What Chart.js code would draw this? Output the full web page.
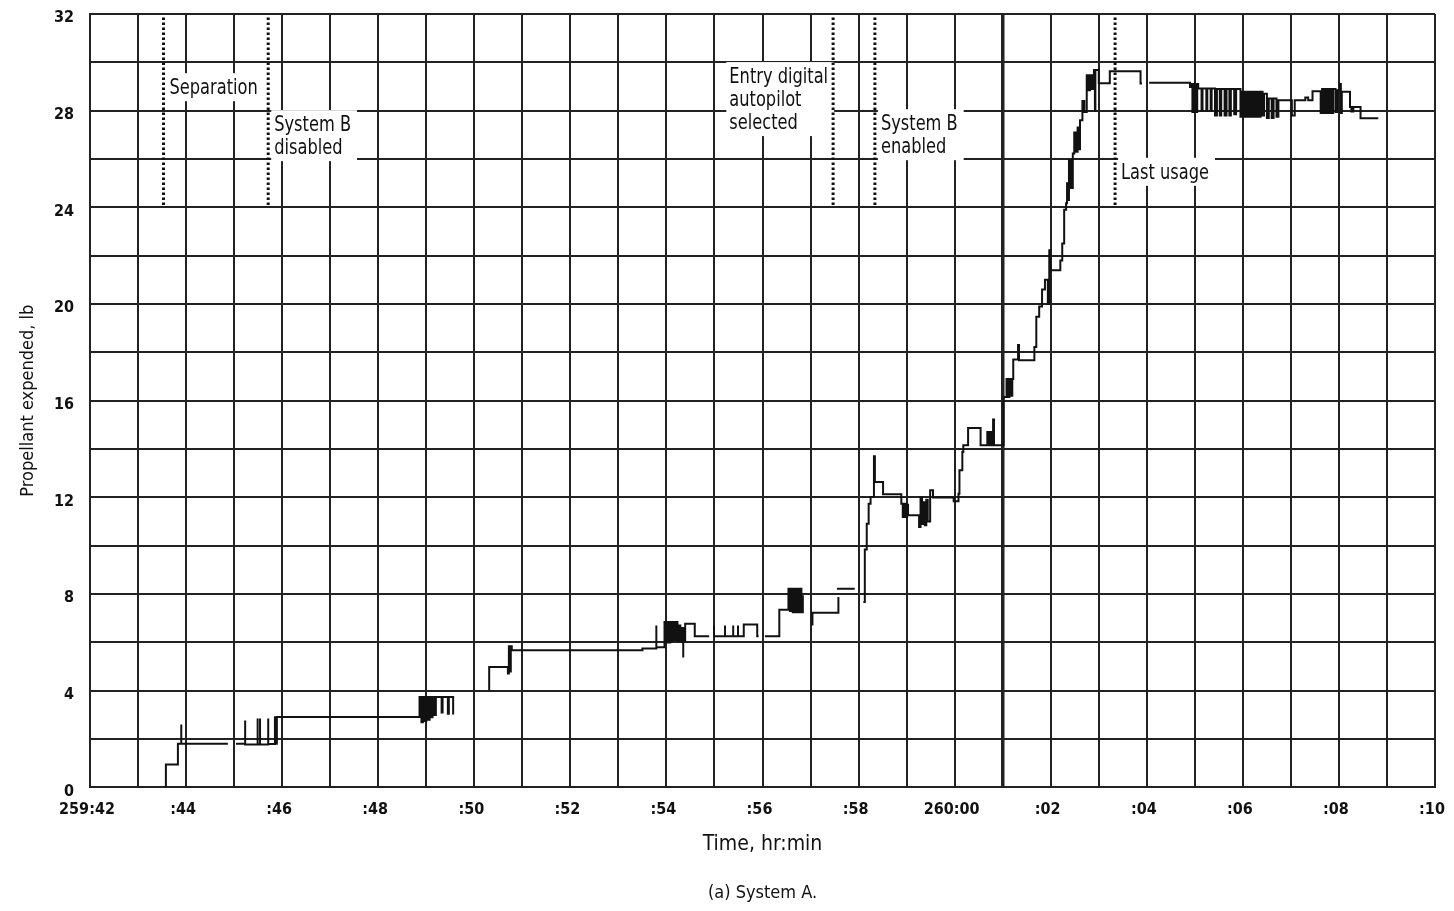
<!DOCTYPE html>
<html>
<head>
<meta charset="utf-8">
<title>Propellant expended - System A</title>
<script src="https://cdn.jsdelivr.net/npm/chart.js@4.4.1/dist/chart.umd.min.js"></script>
<style>
  html, body { margin: 0; padding: 0; background: #fff; }
  #wrap { width: 1454px; height: 911px; }
</style>
</head>
<body>
<div id="wrap"><canvas id="chart"></canvas></div>
<script>
// minutes after 259:42, and propellant expended (lb); null = pen lifted
const traceTime = [
  1.58, 1.58, 1.83, 1.90, 1.90, 2.87, 2.87,
  3.04, 3.23, 3.23, 3.49, 3.49, 3.54, 3.54, 3.71, 3.71, 3.85, 3.85, 3.89,
  6.86, 6.90, 6.93, 6.97, 7.00, 7.03, 7.07, 7.10, 7.13, 7.17, 7.20, 7.32, 7.34, 7.45, 7.47, 7.56, 7.56,
  8.31, 8.31, 8.70, 8.72, 8.74, 8.76, 8.78, 11.50, 11.79, 11.79,
  11.96, 11.99, 12.02, 12.05, 12.08, 12.11, 12.14, 12.17, 12.20, 12.23, 12.26, 12.29, 12.32,
  12.35, 12.35, 12.39, 12.59, 12.89, 12.89,
  12.99, 12.99, 13.22, 13.22, 13.39, 13.39, 13.49, 13.49, 13.61, 13.89, 13.92, 13.92,
  14.05, 14.35, 14.54, 14.57, 14.60, 14.63, 14.66, 14.69, 14.72, 14.75, 14.78, 14.81, 14.84, 14.84, 14.84,
  15.04, 15.04, 15.58, 15.58,
  15.55, 15.92, 15.92,
  16.10, 16.13, 16.17, 16.21, 16.25, 16.32, 16.34, 16.51,
  16.89, 16.92, 16.95, 16.98, 17.01, 17.03, 17.26, 17.29, 17.32, 17.35, 17.38, 17.41, 17.44, 17.49, 17.55,
  17.98, 18.08, 18.10, 18.16, 18.18, 18.28, 18.54, 18.68, 18.70, 18.74, 18.76, 18.80, 18.82,
  19.02, 19.08, 19.11, 19.14, 19.17, 19.20, 19.22, 19.32, 19.34, 19.66, 19.70, 19.76, 19.82, 19.88, 19.94,
  19.97, 19.99, 20.20, 20.24, 20.28, 20.32, 20.34, 20.36, 20.38, 20.42, 20.46, 20.49, 20.52, 20.56, 20.60,
  20.61, 20.66, 20.70, 20.75, 20.78, 20.82, 20.86, 20.90, 20.92, 20.93, 21.00, 21.23, 21.87, 21.90, 21.90,
  22.05, 22.90,
  22.93, 22.95, 22.97, 22.99, 23.01, 23.03, 23.05, 23.07,
  23.14, 23.16, 23.24, 23.26, 23.33, 23.35,
  23.42, 23.46, 23.52, 23.55, 23.62, 23.66, 23.72, 23.75, 23.82, 23.86,
  23.95, 23.98, 24.01, 24.04, 24.07, 24.10, 24.13, 24.16, 24.20, 24.23, 24.27, 24.30, 24.34, 24.37, 24.41, 24.44,
  24.50, 24.54, 24.60, 24.64, 24.70, 24.74,
  25.02, 25.08, 25.30, 25.36, 25.45,
  25.62, 25.65, 25.69, 25.72, 25.76, 25.80, 25.84, 25.88, 25.93, 25.97,
  26.02, 26.04, 26.06, 26.23, 26.26, 26.30, 26.45, 26.82
];
const traceLb = [
  0.00, 0.95, 1.81, 2.60, 1.81, 1.81, null,
  1.81, 2.77, 1.78, 2.85, 1.78, 2.85, 1.78, 2.85, 1.80, 2.94, 1.81, 2.91,
  3.74, 2.70, 3.74, 2.75, 3.74, 2.80, 3.74, 2.90, 3.74, 3.00, 3.74, 3.10, 3.74, 3.05, 3.74, 3.02, null,
  4.01, 4.98, 4.71, 5.84, 4.80, 5.84, 5.67, 5.75, 6.70, 5.80,
  6.84, 6.00, 6.84, 6.00, 6.84, 6.05, 6.84, 6.10, 6.84, 6.05, 6.70, 6.05, 6.60,
  5.37, 6.05, 6.77, 6.25, 6.25, null,
  6.70, 6.25, 6.70, 6.25, 6.70, 6.25, 6.70, 6.25, 6.74, 6.25, 6.25, null,
  6.25, 7.35, 8.22, 7.30, 8.22, 7.25, 8.22, 7.25, 8.22, 7.25, 8.22, 7.25, 7.95, 7.21, null,
  6.70, 7.23, 7.88, null,
  8.22, 8.22, null,
  7.67, 9.84, 10.91, 11.74, 12.02, 13.70, 12.64, 12.13,
  11.74, 11.19, 11.74, 11.19, 11.70, 11.26, 10.77, 12.00, 10.90, 11.80, 10.85, 11.90, 11.00, 12.29, 12.00,
  11.84, 12.15, 13.12, 13.88, 14.16, 14.87, 14.16, 14.70, 14.16, 14.70, 14.16, 15.22, 14.16,
  16.15, 16.90, 16.15, 16.90, 16.20, 16.90, 17.70, 18.30, 17.67, 18.22, 19.47, 19.90, 20.60, 21.00, 20.00,
  22.23, 21.40, 21.80, 22.50, 23.90, 24.17, 25.00, 24.30, 25.95, 24.80, 26.23, 27.10, 26.30, 27.30, 26.40,
  27.60, 28.40, 27.95, 29.47, 28.85, 29.47, 28.90, 29.68, 28.00, 29.68, 29.13, 29.63, 29.12, 29.12, null,
  29.16, 28.98,
  29.10, 27.95, 29.10, 27.95, 29.10, 27.95, 29.10, 28.92,
  28.00, 28.92, 28.00, 28.92, 28.00, 28.92,
  27.80, 28.90, 27.80, 28.90, 27.80, 28.90, 27.80, 28.90, 27.85, 28.90,
  27.75, 28.78, 27.75, 28.78, 27.75, 28.78, 27.75, 28.78, 27.75, 28.78, 27.75, 28.78, 27.75, 28.78, 27.80, 28.70,
  27.70, 28.50, 27.70, 28.50, 27.75, 28.43,
  27.80, 28.43, 28.55, 28.43, 28.80,
  27.90, 28.90, 27.90, 28.90, 27.90, 28.90, 27.90, 28.90, 27.95, 28.85,
  29.10, 27.90, 28.78, 28.15, 27.97, 28.15, 27.69, 27.69
];

// event markers (dotted lines) and their notes
const eventTimes = [1.53, 3.71, 15.47, 16.34, 21.34];
const eventNotes = [
  ['Separation'],
  ['System B', 'disabled'],
  ['Entry digital', 'autopilot', 'selected'],
  ['System B', 'enabled'],
  ['Last usage']
];
const eventTop = 31.9;
const eventBottom = 24.1;

// axis labels
const xTickLabels = ['259:42', ':44', ':46', ':48', ':50', ':52', ':54', ':56', ':58',
  '260:00', ':02', ':04', ':06', ':08', ':10'];
const yTickLabels = ['0', '4', '8', '12', '16', '20', '24', '28', '32'];

// where each note sits: first line centre (lb) and which side of its line
const noteY = [28.93, 27.4, 29.39, 27.44, 25.43];
const noteSide = ['right', 'right', 'left', 'right', 'right'];

const FONT = '"DejaVu Sans Condensed", "DejaVu Sans", sans-serif';
const INK = '#111';
const GRID = '#222';
const SQUEEZE = 0.82; // notes are set in a narrow face

const notesPlugin = {
  id: 'eventNotes',
  beforeDatasetsDraw(chart) {
    const { ctx, scales: { x, y } } = chart;
    const gap = 23;
    ctx.save();
    ctx.font = '22px ' + FONT;
    ctx.textBaseline = 'middle';
    eventNotes.forEach((lines, i) => {
      const lx = x.getPixelForValue(eventTimes[i]);
      const top = y.getPixelForValue(noteY[i]);
      const w = Math.max(...lines.map(s => ctx.measureText(s).width)) * SQUEEZE;
      const left = noteSide[i] === 'left' ? lx - 5 - w : lx + 6;
      // white box knocks the grid out behind the note
      ctx.fillStyle = '#fff';
      ctx.fillRect(left - 3, top - 15, w + 9, (lines.length - 1) * gap + 28);
      ctx.fillStyle = INK;
      lines.forEach((s, j) => {
        ctx.save();
        ctx.translate(left, top + j * gap);
        ctx.scale(SQUEEZE, 1);
        ctx.fillText(s, 0, 0);
        ctx.restore();
      });
    });
    ctx.restore();
  }
};

const datasets = [{
  data: traceTime.map((t, i) => ({ x: t, y: traceLb[i] })),
  stepped: true,
  borderColor: INK,
  borderWidth: 2,
  pointRadius: 0,
  spanGaps: false
}];
eventTimes.forEach(t => {
  datasets.push({
    data: [{ x: t, y: eventBottom }, { x: t, y: eventTop }],
    borderColor: INK,
    borderWidth: 3,
    borderDash: [2.5, 2.5],
    pointRadius: 0
  });
});

new Chart(document.getElementById('chart'), {
  type: 'line',
  data: { datasets },
  plugins: [notesPlugin],
  options: {
    responsive: true,
    maintainAspectRatio: false,
    animation: false,
    layout: { padding: { left: 0, right: 19, top: 14, bottom: 7 } },
    plugins: {
      legend: { display: false },
      tooltip: { enabled: false },
      title: {
        display: true,
        position: 'bottom',
        fullSize: false,
        text: '(a) System A.',
        color: INK,
        font: { family: FONT, size: 18, weight: 'normal' },
        padding: 0
      }
    },
    scales: {
      x: {
        type: 'linear',
        min: 0,
        max: 28,
        grid: {
          color: GRID,
          lineWidth: c => (c.tick && c.tick.value === 19 ? 3.5 : 2),
          drawTicks: false
        },
        border: { color: GRID, width: 2 },
        ticks: {
          stepSize: 1,
          autoSkip: false,
          maxRotation: 0,
          padding: 13,
          labelOffset: -3,
          color: INK,
          font: { family: FONT, size: 16, weight: 'bold' },
          callback: v => (v % 2 === 0 ? xTickLabels[v / 2] : '')
        },
        title: {
          display: true,
          text: 'Time, hr:min',
          color: INK,
          font: { family: FONT, size: 21 },
          padding: { top: 0, bottom: 25 }
        },
        afterFit: s => { s.height = 95; s.paddingLeft = 0; s.paddingRight = 0; }
      },
      y: {
        min: 0,
        max: 32,
        grid: { color: GRID, lineWidth: 2, drawTicks: false },
        border: { color: GRID, width: 2 },
        ticks: {
          stepSize: 2,
          autoSkip: false,
          padding: 16,
          labelOffset: 4,
          color: INK,
          font: { family: FONT, size: 16, weight: 'bold' },
          callback: v => (v % 4 === 0 ? yTickLabels[v / 4] : '')
        },
        title: {
          display: true,
          text: 'Propellant expended, lb',
          color: INK,
          font: { family: FONT, size: 18 },
          padding: { top: 18, bottom: 0 }
        },
        afterFit: s => { s.width = 90; s.paddingTop = 0; s.paddingBottom = 0; }
      }
    }
  }
});
</script>
</body>
</html>
